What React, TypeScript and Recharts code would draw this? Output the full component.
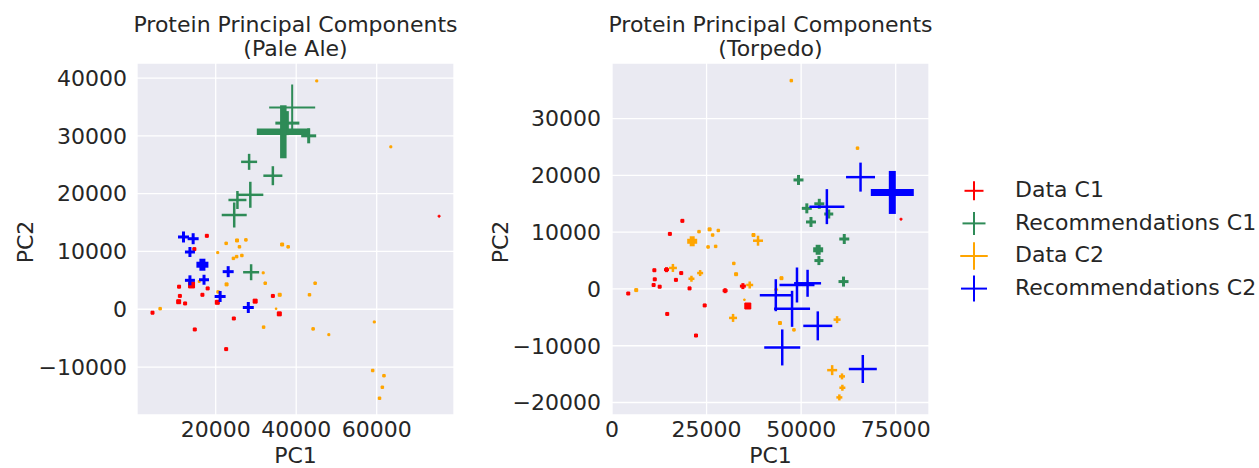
import React from 'react';
import { ScatterChart, Scatter, XAxis, YAxis, CartesianGrid } from 'recharts';

// each point: [PC1, PC2, marker size, marker weight]
type Pt = [number, number, number, number];

const seriesNames = ['Data C1', 'Recommendations C1', 'Data C2', 'Recommendations C2'];
const seriesColors = ['#FF0000', '#2E8B57', '#FFA500', '#0000FF'];

const paleDataC1: Pt[] = [
  [17800, 12700, 4, 3], [14700, 10400, 4, 3], [14000, 4200, 7, 6], [10900, 3900, 4, 3],
  [18000, 3600, 4, 3], [11100, 2300, 4, 3], [16700, 2500, 4, 3], [10800, 1300, 5, 4],
  [12400, 1000, 4, 3], [20400, 1200, 5, 4], [4300, -600, 4, 3], [29800, 1400, 5, 4],
  [34200, 2300, 4, 3], [35800, -800, 5, 4], [24500, -1600, 4, 3], [14800, -3500, 4, 3],
  [22600, -6900, 4, 3], [75500, 16100, 3, 1.5],
];
const paleRecC1: Pt[] = [
  [39000, 34900, 46, 2], [37800, 32200, 24, 3], [36800, 30700, 53, 6.5], [43100, 30000, 15, 3],
  [28300, 25500, 16, 2.5], [34200, 23100, 19, 2.5], [28600, 19800, 26, 2.5], [25400, 18900, 18, 2.5],
  [24600, 16300, 25, 2.5], [28800, 6400, 16, 2.5],
];
const paleDataC2: Pt[] = [
  [22600, 11400, 3.5, 2.5], [25300, 11900, 4, 3], [27500, 12000, 3.5, 2.5], [25900, 10800, 3.5, 2.5],
  [36500, 11200, 4, 3], [38000, 10800, 3.5, 2.5], [20500, 9800, 3, 2], [24400, 8800, 3.5, 2.5],
  [25200, 9100, 3.5, 2.5], [26500, 9300, 3.5, 2.5], [31800, 6300, 3, 2], [15900, 4800, 3, 2],
  [22700, 4300, 4, 3], [32300, 4500, 3.5, 2.5], [20600, 3000, 3.5, 2.5], [35900, 2500, 4, 3],
  [44700, 4500, 3.5, 2.5], [43300, 2500, 3.5, 2.5], [6200, 100, 3.5, 2.5], [35000, 100, 2.5, 1.5],
  [31900, -3100, 3.5, 2.5], [44200, -3400, 3.5, 2.5], [48100, -4400, 3, 2], [59400, -2200, 3, 2],
  [59000, -10600, 3.5, 2.5], [61800, -11500, 3.5, 2.5], [61400, -13500, 3.5, 2.5], [60700, -15400, 3.5, 2.5],
  [45100, 39500, 3, 2], [63500, 28100, 3, 2],
];
const paleRecC2: Pt[] = [
  [12000, 12500, 11, 3], [14400, 12200, 11, 3], [13600, 9900, 10, 3], [16700, 7700, 12, 6],
  [23100, 6500, 11, 3], [13600, 5000, 10, 3], [17100, 5100, 10, 3], [21100, 2200, 11, 3],
  [28100, 300, 11, 3],
];

const torpDataC1: Pt[] = [
  [18600, 12000, 4, 3], [15300, 9700, 4, 3], [11200, 3300, 4, 3], [14400, 3400, 5, 3],
  [18300, 2800, 4, 3], [11300, 1700, 4, 3], [16900, 1600, 4, 3], [11000, 700, 4, 3],
  [12600, 400, 4, 3], [20500, 100, 4, 3], [4300, -800, 4, 3], [29900, -300, 5, 3],
  [34600, 500, 6, 3], [35900, -3000, 7, 6], [24500, -2900, 4, 3], [14600, -4400, 4, 3],
  [22200, -8200, 4, 3], [76400, 12300, 3, 1.5],
];
const torpRecC1: Pt[] = [
  [49300, 19200, 10, 3], [51500, 14200, 10, 3], [54800, 15000, 10, 3], [57300, 13200, 9, 3],
  [52600, 11800, 10, 3], [61400, 8800, 10, 3], [54500, 6900, 10, 5], [54700, 5000, 9, 3],
  [61200, 1300, 10, 3],
];
const torpDataC2: Pt[] = [
  [47400, 36700, 3.5, 2.5], [64900, 24800, 3.5, 2.5], [23000, 10100, 3.5, 2.5], [25800, 10500, 4, 3],
  [28100, 10300, 3.5, 2.5], [26600, 9500, 3.5, 2.5], [21200, 8400, 10, 5], [37400, 9500, 4, 3],
  [38600, 8500, 10, 2.5], [25400, 7400, 3.5, 2.5], [27400, 7500, 3.5, 2.5], [32200, 4500, 3.5, 2.5],
  [16100, 3700, 8, 2.5], [32800, 2600, 4, 3], [23300, 2800, 6, 2.5], [21000, 1800, 6, 2.5],
  [6400, -200, 4, 3], [44800, 1900, 4, 3], [43400, -100, 4, 2], [36400, 700, 7, 2.5],
  [35000, -1900, 2.5, 1.5], [32000, -5100, 8, 2.5], [44400, -6000, 4, 3], [48100, -7200, 3.5, 2.5],
  [59500, -5400, 7, 2.5], [58200, -14300, 10, 2.5], [60800, -15400, 6, 2.5], [60900, -17400, 6, 2.5],
  [60100, -19100, 6, 2.5],
];
const torpRecC2: Pt[] = [
  [56800, 14500, 35, 2.5], [65700, 19700, 29, 2.5], [74100, 17000, 43, 7], [43300, -1100, 32, 2.5],
  [47600, -3500, 36, 2.5], [48900, 700, 35, 2.5], [51700, 1000, 27, 2.5], [54400, -6500, 29, 2.5],
  [45000, -10300, 36, 2.5], [66300, -14100, 28, 2.5],
];

const paleXTicks = [20000, 40000, 60000];
const paleYTicks = [-10000, 0, 10000, 20000, 30000, 40000];
const torpXTicks = [0, 25000, 50000, 75000];
const torpYTicks = [-20000, -10000, 0, 10000, 20000, 30000];

const FONT = '"DejaVu Sans", sans-serif';
const TEXT = '#262626';
const FS = 22;

const toRows = (pts: Pt[]) => pts.map(([x, y, z, w]) => ({ x, y, z, w }));

const makeCross = (color: string) => (props: any) => {
  const { cx, cy, payload } = props;
  if (cx == null || cy == null || !payload) return <g />;
  const h = payload.z / 2;
  return (
    <g>
      <line x1={cx - h} y1={cy} x2={cx + h} y2={cy} stroke={color} strokeWidth={payload.w} />
      <line x1={cx} y1={cy - h} x2={cx} y2={cy + h} stroke={color} strokeWidth={payload.w} />
    </g>
  );
};

const fmt = (v: number) => (v < 0 ? '\u2212' + Math.abs(v) : String(v));

type PanelProps = {
  left: number;
  marginLeft: number;
  marginRight: number;
  xDomain: [number, number];
  yDomain: [number, number];
  xTicks: number[];
  yTicks: number[];
  series: Pt[][];
  yTickMargin: number;
};

const Panel = (p: PanelProps) => (
  <div style={{ position: 'absolute', left: p.left, top: 0 }}>
    <ScatterChart
      width={470}
      height={468}
      margin={{ top: 63, right: p.marginRight, bottom: 23, left: p.marginLeft }}
    >
      <CartesianGrid fill="#EAEAF2" stroke="#FFFFFF" strokeWidth={1.3} />
      <XAxis
        type="number"
        dataKey="x"
        domain={p.xDomain}
        ticks={p.xTicks}
        interval={0}
        allowDataOverflow
        tickLine={false}
        axisLine={false}
        tickMargin={0.5}
        height={30}
        tickFormatter={fmt}
        tick={{ fill: TEXT, fontSize: FS, fontFamily: FONT }}
      />
      <YAxis
        type="number"
        dataKey="y"
        domain={p.yDomain}
        ticks={p.yTicks}
        interval={0}
        allowDataOverflow
        tickLine={false}
        axisLine={false}
        tickMargin={p.yTickMargin}
        width={60}
        tickFormatter={fmt}
        tick={{ fill: TEXT, fontSize: FS, fontFamily: FONT }}
      />
      {p.series.map((s, i) => (
        <Scatter
          key={seriesNames[i]}
          name={seriesNames[i]}
          data={toRows(s)}
          fill={seriesColors[i]}
          shape={makeCross(seriesColors[i])}
          isAnimationActive={false}
        />
      ))}
    </ScatterChart>
  </div>
);

const legendSizes = [19, 23, 27.5, 26];

export default function App() {
  return (
    <div style={{ position: 'absolute', left: 0, top: 0, width: 1259, height: 468, background: '#fff' }}>
      <Panel
        left={0}
        marginLeft={77}
        marginRight={16}
        xDomain={[450, 79200]}
        yDomain={[-18300, 42600]}
        xTicks={paleXTicks}
        yTicks={paleYTicks}
        series={[paleDataC1, paleRecC1, paleDataC2, paleRecC2]}
        yTickMargin={4}
      />
      <Panel
        left={480}
        marginLeft={72}
        marginRight={21}
        xDomain={[0, 83800]}
        yDomain={[-22200, 39800]}
        xTicks={torpXTicks}
        yTicks={torpYTicks}
        series={[torpDataC1, torpRecC1, torpDataC2, torpRecC2]}
        yTickMargin={5}
      />
      <svg
        width={1259}
        height={468}
        style={{ position: 'absolute', left: 0, top: 0, pointerEvents: 'none' }}
        fontFamily={FONT}
        fontSize={FS}
        fill={TEXT}
      >
        <text x={295.5} y={32} textAnchor="middle">Protein Principal Components</text>
        <text x={295.5} y={56} textAnchor="middle">(Pale Ale)</text>
        <text x={770.5} y={32} textAnchor="middle">Protein Principal Components</text>
        <text x={770.5} y={56} textAnchor="middle">(Torpedo)</text>
        <text x={295.5} y={462.8} textAnchor="middle">PC1</text>
        <text x={770.5} y={462.8} textAnchor="middle">PC1</text>
        <text transform="translate(33.3,242) rotate(-90)" textAnchor="middle">PC2</text>
        <text transform="translate(508.3,242) rotate(-90)" textAnchor="middle">PC2</text>
        {seriesNames.map((n, i) => {
          const cy = 190.8 + i * 32.6;
          const h = legendSizes[i] / 2;
          return (
            <g key={n}>
              <line x1={974 - h} y1={cy} x2={974 + h} y2={cy} stroke={seriesColors[i]} strokeWidth={2} />
              <line x1={974} y1={cy - h} x2={974} y2={cy + h} stroke={seriesColors[i]} strokeWidth={2} />
              <text x={1015} y={196.7 + i * 32.8}>{n}</text>
            </g>
          );
        })}
      </svg>
    </div>
  );
}
